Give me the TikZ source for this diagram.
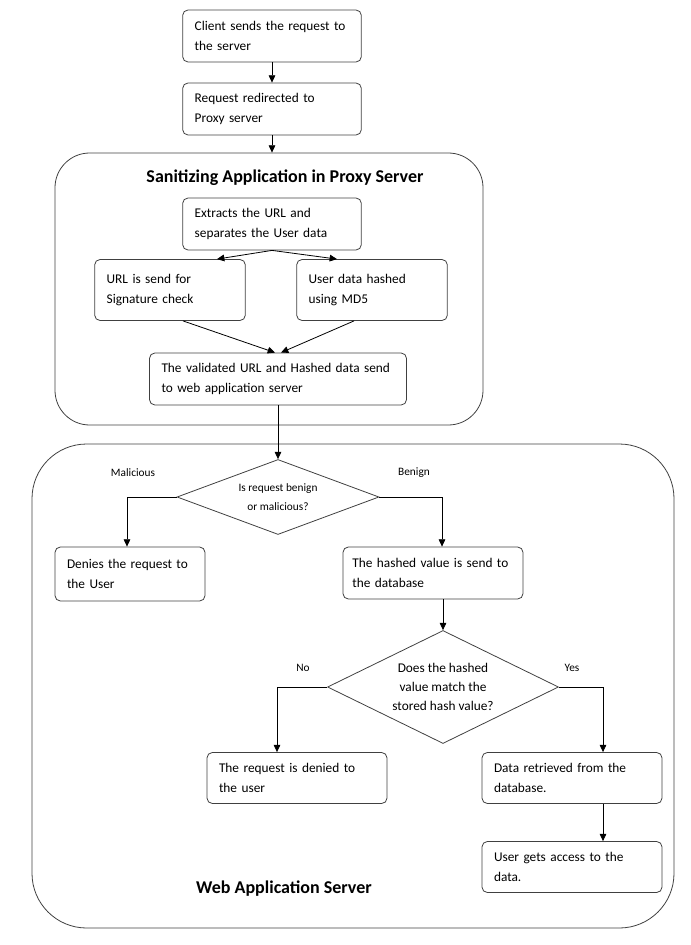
\documentclass[tikz,border=0pt]{standalone}
\usepackage{fontspec}
\setmainfont{Carlito}
\usetikzlibrary{shapes.geometric, arrows.meta, positioning, calc}
\tikzset{
  box/.style      = {rectangle, rounded corners=4pt, draw=black!75, line width=0.6pt,
                     text width=#1, align=left, inner xsep=9pt,
                     font=\fontsize{10}{15}\selectfont},
  box/.default    = 116pt,
  decision/.style = {diamond, draw=black!75, line width=0.6pt, align=center,
                     inner sep=0pt, aspect=2},
  group/.style    = {rectangle, draw=black!75, line width=0.6pt},
  heading/.style  = {font=\fontsize{13.5}{16}\selectfont\bfseries},
  lbl/.style      = {font=\fontsize{8.5}{10}\selectfont},
  arrow/.style    = {-{Triangle[length=5.5pt,width=5pt]}, line width=0.6pt},
}

\begin{document}
\begin{tikzpicture}[x=0.75pt, y=-0.75pt]
  \useasboundingbox (0,0) rectangle (690,945);

  \node[group, rounded corners=26pt, minimum width=321pt, minimum height=204pt] (proxy) at (269,289) {};
  \node[group, rounded corners=41pt, minimum width=481.5pt, minimum height=363pt] (web) at (353,686) {};
  \node[heading] (proxytitle) at (285,178) {Sanitizing Application in Proxy Server};
  \node[heading] (webtitle) at (284,889) {Web Application Server};

  \node[box, minimum height=39pt] (client) at (272,36) {Client sends the request to\\the server};
  \node[box, minimum height=39pt] (redirect) at (272,109) {Request redirected to\\Proxy server};
  \node[box, minimum height=39pt] (extract) at (272,224) {Extracts the URL and\\separates the User data};
  \node[box=95pt, minimum height=45.75pt] (urlcheck) at (170,290) {URL is send for\\Signature check};
  \node[box=95pt, minimum height=45.75pt] (hashmd) at (372,290) {User data hashed\\using MD5};
  \node[box=174.75pt, minimum height=39pt] (validated) at (278,379) {The validated URL and Hashed data send\\to web application server};

  \node[decision, minimum width=151.5pt, minimum height=56.25pt, font=\fontsize{8.5}{14.25}\selectfont] (benign) at (278,497) {Is request benign\\or malicious?};
  \node[lbl] (lmal) at (133,473) {Malicious};
  \node[lbl] (lben) at (414,473) {Benign};
  \node[box=94.5pt, minimum height=40.5pt] (deny) at (130,574) {Denies the request to\\the User};
  \node[box=121pt, inner xsep=7pt, minimum height=39pt] (tohash) at (433,573) {The hashed value is send to\\the database};

  \node[decision, minimum width=173.25pt, minimum height=84.75pt, font=\fontsize{10}{14.25}\selectfont] (match) at (443,687) {Does the hashed\\value match the\\stored hash value?};
  \node[lbl] (lno) at (303,668) {No};
  \node[lbl] (lyes) at (572,668) {Yes};
  \node[box=117pt, minimum height=38.25pt] (denied) at (297,778) {The request is denied to\\the user};
  \node[box=117pt, minimum height=38.25pt] (retrieve) at (572,778) {Data retrieved from the\\database.};
  \node[box=117pt, minimum height=38.25pt] (access) at (572,867) {User gets access to the\\data.};

  \draw[arrow] (client) -- (redirect);
  \draw[arrow] (redirect.south) -- (redirect.south |- proxy.north);
  \draw[arrow] (extract.south) -- ($(urlcheck.north)+(47,0)$);
  \draw[arrow] (extract.south) -- ($(hashmd.north)+(-35,0)$);
  \draw[arrow] ($(urlcheck.south)+(13,0)$) -- ($(validated.north)+(-3,0)$);
  \draw[arrow] ($(hashmd.south)+(-18,0)$) -- ($(validated.north)+(3,0)$);
  \draw[arrow] (validated) -- (benign);
  \draw[arrow] (benign.west) -| ($(deny.north)+(-3,0)$);
  \draw[arrow] (benign.east) -| ($(tohash.north)+(9,0)$);
  \draw[arrow] ($(tohash.south)+(10,0)$) -- (match.north);
  \draw[arrow] (match.west) -| ($(denied.north)+(-20,0)$);
  \draw[arrow] (match.east) -| ($(retrieve.north)+(31,0)$);
  \draw[arrow] ($(retrieve.south)+(31,0)$) -- ($(access.north)+(31,0)$);
\end{tikzpicture}
\end{document}
